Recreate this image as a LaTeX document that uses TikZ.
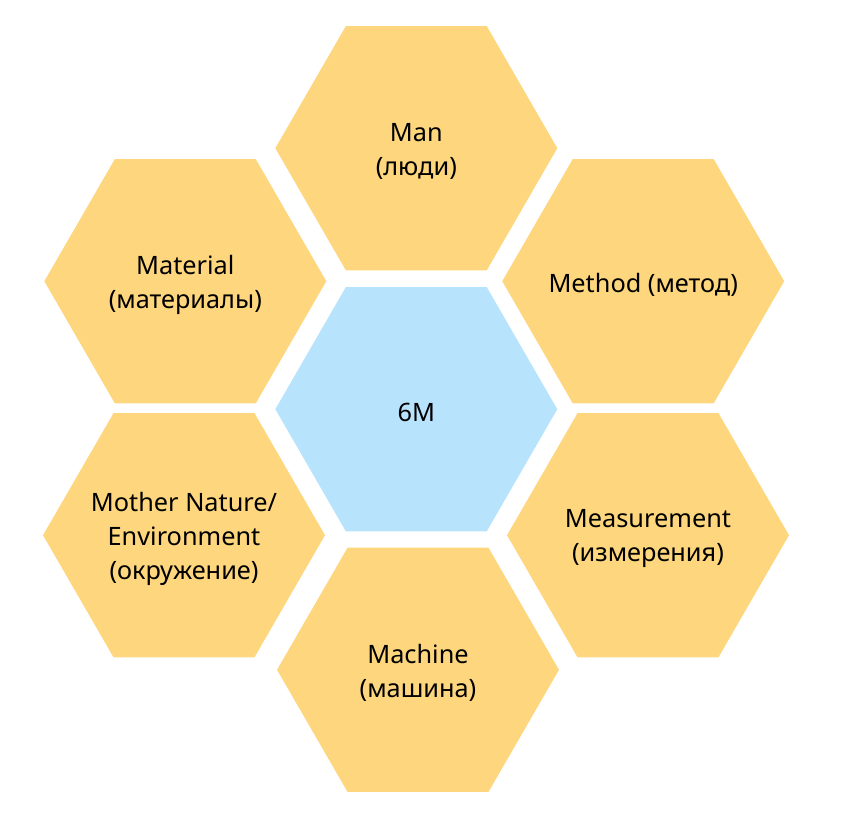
\documentclass[tikz,border=0pt]{standalone}
\usepackage{fontspec}
\setmainfont{Noto Sans}
\usetikzlibrary{shapes.geometric}
\definecolor{hexyellow}{HTML}{FDD67D}
\definecolor{hexblue}{HTML}{B7E3FC}
\begin{document}
\begin{tikzpicture}[
		x=0.02cm, y=-0.02cm,
		hex/.style={
			regular polygon,
			regular polygon sides=6,
			minimum size=5.64cm,
			inner sep=0pt,
			outer sep=0pt,
			fill=hexyellow,
			label={[hextext]center:#1}
		},
		hextext/.style={
			align=center,
			inner sep=0pt,
			yshift=-0.07cm,
			font=\fontsize{14.4}{19.3}\selectfont
		},
		core/.style={hex=#1, fill=hexblue}
		]
		
		% Page frame
		\useasboundingbox (0,0) rectangle (842,823);
		
		% Centre node
		\node[core={6M}] (sixm) at (416.3,409.2) {};
		
		% Top node
		\node[hex={Man\\(люди)}] (man) at (416.3,148.2) {};
		
		% Left column
		\node[hex={Material\\(материалы)}] (material) at (185.3,281.2) {};
		\node[hex={Mother Nature/\\Environment\\(окружение)}] (nature) at (184,535.2) {};
		
		% Right column
		\node[hex={Method (метод)}] (method) at (643.2,281.2) {};
		\node[hex={Measurement\\(измерения)}] (measure) at (648,535.2) {};
		
		% Bottom node
		\node[hex={Machine\\(машина)}] (machine) at (418,669.8) {};
		
	\end{tikzpicture}
\end{document}
